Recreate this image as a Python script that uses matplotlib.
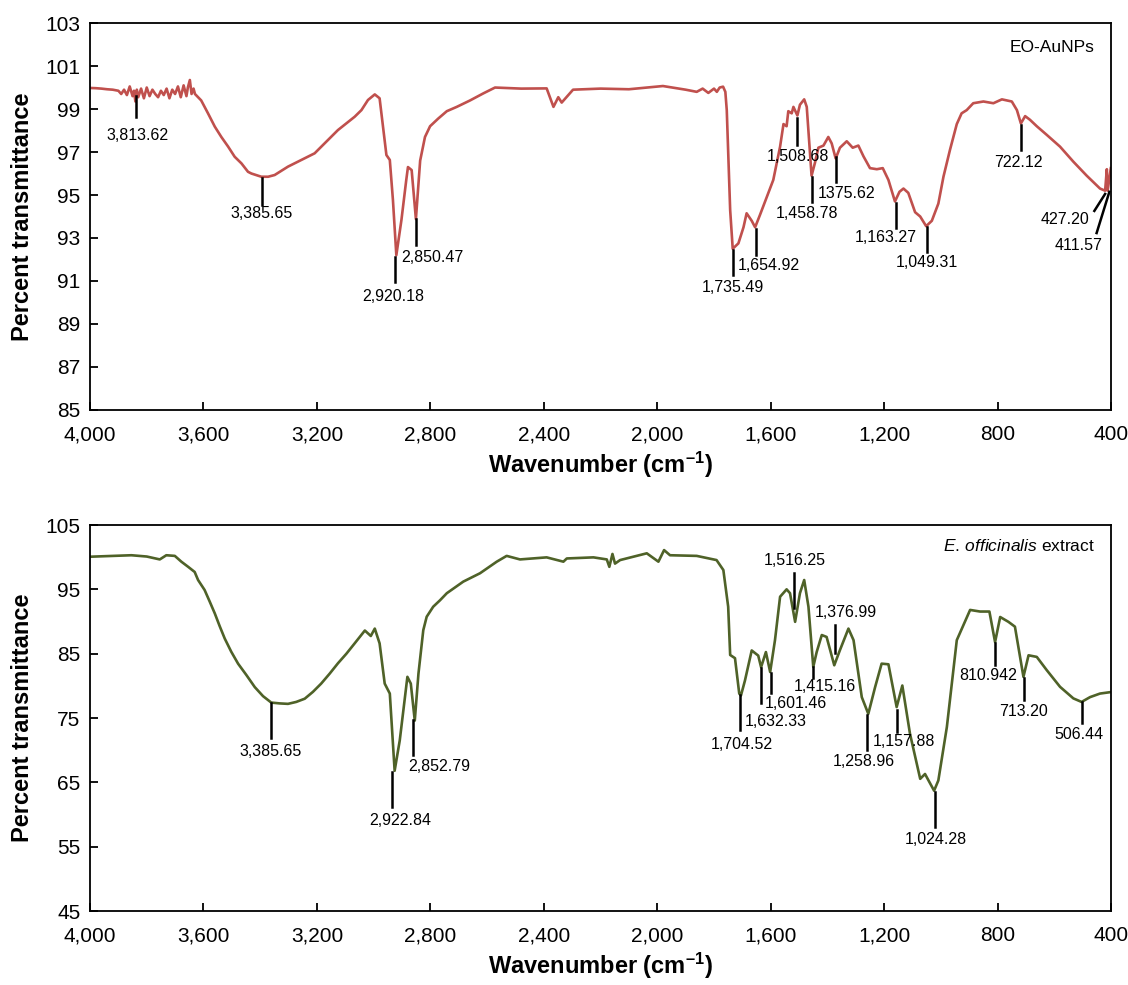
import numpy as np
import matplotlib.pyplot as plt

plt.rcParams['font.family'] = ['Liberation Sans', 'DejaVu Sans']
plt.rcParams['mathtext.fontset'] = 'custom'
plt.rcParams['mathtext.rm'] = 'Liberation Sans'
plt.rcParams['mathtext.it'] = 'Liberation Sans:italic'
plt.rcParams['mathtext.bf'] = 'Liberation Sans:bold'

# EO-AuNPs spectrum (wavenumber, % transmittance)
wn_top = [4000, 3980, 3960, 3940, 3920, 3900, 3890, 3880, 3870, 3860, 3850, 3845, 3840,
          3835, 3830, 3820, 3810, 3800, 3790, 3780, 3770, 3760, 3750, 3740, 3730, 3720,
          3710, 3700, 3690, 3680, 3670, 3660, 3655, 3648, 3642, 3635, 3630,
          3608, 3584, 3560, 3537, 3513, 3490, 3466, 3443, 3431, 3396, 3372, 3349, 3302,
          3255, 3208, 3161, 3126, 3090, 3067, 3043, 3020,
          2996, 2979, 2967, 2955, 2943, 2932, 2920, 2902, 2885, 2879, 2866, 2857, 2851,
          2846, 2836, 2819, 2801, 2772, 2742, 2707, 2660, 2613, 2572, 2480, 2390, 2366,
          2349, 2337, 2297, 2200,
          2100, 1980, 1900, 1861, 1840, 1820, 1800, 1790, 1780, 1768, 1760, 1755, 1743,
          1734, 1714, 1696, 1685, 1667, 1655, 1638, 1614, 1591, 1567, 1555, 1544, 1538,
          1526, 1520, 1506, 1497, 1482, 1473, 1456, 1444, 1432, 1414, 1397, 1385, 1371,
          1356, 1332, 1311, 1291, 1273, 1250, 1226, 1205, 1185, 1162, 1146, 1132, 1115,
          1091, 1073, 1052, 1032, 1009, 991, 968, 944, 927, 909, 886, 850, 815, 785, 750,
          732, 718, 703, 686, 662, 627, 580, 533, 486, 439, 421, 415, 412, 401]
t_top = [99.98, 99.97, 99.95, 99.92, 99.9, 99.85, 99.7, 99.9, 99.65, 100.05, 99.6, 99.85, 99.35,
         99.9, 99.55, 99.95, 99.5, 100.0, 99.6, 99.9, 99.7, 99.55, 99.85, 99.65, 99.95, 99.5,
         99.9, 99.7, 100.05, 99.55, 100.1, 99.6, 100.0, 100.35, 99.7, 99.95, 99.7,
         99.4, 98.8, 98.18, 97.7, 97.25, 96.78, 96.47, 96.08, 96.0, 95.85, 95.85, 95.93, 96.32,
         96.63, 96.94, 97.56, 98.02, 98.4, 98.64, 98.95, 99.42,
         99.68, 99.5, 98.18, 96.86, 96.63, 94.77, 92.2, 93.84, 95.7, 96.3, 96.16, 94.77, 93.88,
         94.77, 96.6, 97.7, 98.2, 98.56, 98.9, 99.1, 99.4, 99.73, 100.0, 99.95, 99.96, 99.1,
         99.55, 99.3, 99.9, 99.95,
         99.92, 100.07, 99.9, 99.8, 99.95, 99.75, 99.95, 99.8, 100.0, 100.04, 99.8, 98.95, 94.3,
         92.5, 92.75, 93.5, 94.15, 93.8, 93.5, 94.07, 94.9, 95.7, 97.25, 98.3, 98.2, 98.9,
         98.8, 99.1, 98.7, 99.2, 99.45, 99.1, 95.9, 96.5, 97.2, 97.3, 97.7, 97.4, 96.7,
         97.2, 97.5, 97.2, 97.3, 96.8, 96.25, 96.2, 96.25, 95.7, 94.7, 95.15, 95.3, 95.1,
         94.2, 94.0, 93.55, 93.8, 94.6, 95.85, 97.1, 98.3, 98.8, 98.95, 99.27, 99.35, 99.27, 99.45, 99.35,
         98.95, 98.33, 98.67, 98.5, 98.2, 97.8, 97.25, 96.55, 95.9, 95.3, 95.2, 96.2, 95.2, 96.25]

# E. officinalis extract spectrum
wn_bot = [4000, 3854, 3800, 3754, 3731, 3701, 3678, 3654, 3631, 3619, 3596, 3578, 3560, 3543,
          3525, 3502, 3478, 3449, 3419, 3390, 3361, 3331, 3302, 3273, 3243, 3214, 3185, 3155,
          3126, 3096, 3067, 3031, 3010, 2996, 2979, 2961, 2943, 2926,
          2908, 2881, 2869, 2855, 2842, 2825, 2813, 2790, 2766, 2742, 2684, 2625, 2566, 2531,
          2484, 2390,
          2331, 2319, 2225, 2178, 2169, 2158, 2149, 2131, 2037, 1996, 1976, 1955, 1861,
          1791, 1767, 1750, 1743, 1726, 1711, 1705, 1691, 1667, 1644, 1634, 1617, 1602,
          1585, 1567, 1544, 1532, 1514, 1497, 1482, 1467, 1450, 1438, 1420, 1403, 1376,
          1356, 1326, 1308, 1279, 1256, 1232, 1209, 1185, 1156, 1136, 1109, 1073, 1056,
          1024, 1009, 979, 944, 897, 862, 829, 809, 791, 762, 739, 709, 691, 662, 627,
          580, 533, 504, 474, 439, 398]
t_bot = [100.07, 100.3, 100.1, 99.65, 100.3, 100.2, 99.3, 98.5, 97.7, 96.45, 94.9, 93.1, 91.25, 89.3,
         87.35, 85.3, 83.45, 81.7, 79.8, 78.4, 77.4, 77.27, 77.2, 77.5, 78.0, 79.07, 80.35, 81.9,
         83.5, 85.0, 86.6, 88.6, 87.75, 88.9, 86.6, 80.35, 78.8, 66.8,
         71.5, 81.4, 80.35, 74.6, 81.9, 88.65, 90.74, 92.3, 93.3, 94.4, 96.2, 97.5, 99.3, 100.2,
         99.65, 99.97,
         99.3, 99.8, 99.97, 99.65, 98.5, 100.5, 99.0, 99.55, 100.6, 99.3, 101.1, 100.3, 100.2,
         99.55, 98.0, 92.3, 84.8, 84.3, 78.8, 78.5, 80.8, 85.5, 84.7, 82.9, 85.25, 82.15,
         87.1, 93.85, 95.0, 94.4, 89.95, 94.4, 96.45, 92.3, 82.95, 85.25, 87.9, 87.6, 83.2,
         85.55, 88.9, 87.1, 78.25, 75.65, 79.8, 83.45, 83.35, 76.7, 80.05, 72.55, 65.55, 66.3,
         63.7, 65.3, 73.6, 87.1, 91.8, 91.55, 91.55, 86.8, 90.7, 89.95, 89.2, 81.4, 84.75, 84.5, 82.45,
         79.85, 78.05, 77.5, 78.25, 78.8, 79.05]

# peak labels: text, bar x (start, end), bar y (start, end)
pk_top_txt = ['3,813.62', '3,385.65', '2,920.18', '2,850.47', '1,735.49', '1,654.92', '1,508.68',
              '1,458.78', '1375.62', '1,163.27', '1,049.31', '722.12', '427.20', '411.57']
pk_top_x0 = [3838, 3394, 2925, 2851, 1733, 1653, 1506, 1453, 1370, 1159, 1050, 716, 421, 406]
pk_top_x1 = [3838, 3394, 2925, 2851, 1733, 1653, 1506, 1453, 1370, 1159, 1050, 716, 459, 451]
pk_top_y0 = [99.6, 95.79, 92.12, 93.88, 92.44, 93.42, 98.58, 95.84, 96.77, 94.63, 93.51, 98.26, 95.05, 95.15]
pk_top_y1 = [98.63, 94.53, 90.95, 92.67, 91.28, 92.21, 97.33, 94.67, 95.6, 93.47, 92.35, 97.09, 94.26, 93.23]

pk_bot_txt = ['3,385.65', '2,922.84', '2,852.79', '1,704.52', '1,632.33', '1,601.46', '1,516.25',
              '1,415.16', '1,376.99', '1,258.96', '1,157.88', '1,024.28', '810.942', '713.20', '506.44']
pk_bot_x = [3363, 2935, 2860, 1708, 1635, 1600, 1517, 1452, 1372, 1260, 1156, 1021, 808, 707, 501]
pk_bot_y0 = [77.32, 66.59, 74.67, 78.56, 82.76, 81.98, 97.54, 82.92, 89.45, 75.45, 76.23, 63.52, 86.65, 81.21, 77.52]
pk_bot_y1 = [71.87, 61.14, 69.23, 73.12, 77.32, 78.87, 92.09, 81.21, 85.09, 70.01, 72.85, 58.08, 83.23, 77.78, 74.16]

# label text positions (layout)
lab_top_pos = [(3834, 97.79), (3394, 94.12), (2932, 90.26), (2794, 92.07), (1733, 90.72),
               (1606, 91.70), (1504, 96.77), (1472, 94.12), (1332, 95.09), (1193, 93.0),
               (1050, 91.84), (728, 96.53), (562, 93.88), (513, 92.67)]
lab_bot_pos = [(3363, 69.74), (2907, 59.12), (2769, 67.52), (1701, 70.94), (1581, 74.41),
               (1511, 77.27), (1517, 99.56), (1409, 79.96), (1336, 91.42), (1271, 68.19),
               (1130, 71.41), (1019, 56.12), (834, 81.67), (710, 76.07), (513, 72.5)]

xticks = [4000, 3600, 3200, 2800, 2400, 2000, 1600, 1200, 800, 400]
xtick_labels = ['4,000', '3,600', '3,200', '2,800', '2,400', '2,000', '1,600', '1,200', '800', '400']

fig = plt.figure(figsize=(11.28, 9.85), dpi=100)
ax1 = fig.add_axes([0.0798, 0.5838, 0.9052, 0.3928])
ax2 = fig.add_axes([0.0798, 0.0751, 0.9052, 0.3919])

ax1.plot(wn_top, t_top, color='#C0504D', lw=1.9)
ax2.plot(wn_bot, t_bot, color='#4F6228', lw=1.9)

for i, s in enumerate(pk_top_txt):
    ax1.plot([pk_top_x0[i], pk_top_x1[i]], [pk_top_y0[i], pk_top_y1[i]], color='black', lw=1.8)
    ax1.text(lab_top_pos[i][0], lab_top_pos[i][1], s, ha='center', va='center', fontsize=11.5)
for i, s in enumerate(pk_bot_txt):
    ax2.plot([pk_bot_x[i], pk_bot_x[i]], [pk_bot_y0[i], pk_bot_y1[i]], color='black', lw=1.8)
    ax2.text(lab_bot_pos[i][0], lab_bot_pos[i][1], s, ha='center', va='center', fontsize=11.5)

ax1.set_ylim(85, 103)
ax1.set_yticks(np.arange(85, 104, 2))
ax2.set_ylim(45, 105)
ax2.set_yticks(np.arange(45, 106, 10))

for ax in (ax1, ax2):
    ax.set_xlim(4000, 400)
    ax.set_xticks(xticks)
    ax.set_xticklabels(xtick_labels)
    ax.tick_params(direction='in', length=6, width=1.3, labelsize=15)
    ax.tick_params(axis='x', pad=11)
    ax.tick_params(axis='y', pad=7)
    for sp in ax.spines.values():
        sp.set_linewidth(1.3)
    ax.set_xlabel('Wavenumber (cm$^{\\mathbf{\u2013}\\mathbf{1}}$)', fontsize=17,
                  fontweight='bold', labelpad=4)
    ax.set_ylabel('Percent transmittance', fontsize=17, fontweight='bold', labelpad=8)

ax1.text(0.984, 0.938, 'EO-AuNPs', transform=ax1.transAxes, ha='right', va='center', fontsize=12.5)
ax2.text(0.984, 0.9456, r'$\mathit{E.\,officinalis}$ extract', transform=ax2.transAxes,
         ha='right', va='center', fontsize=12.5)

fig.savefig('out.png', dpi=100)
